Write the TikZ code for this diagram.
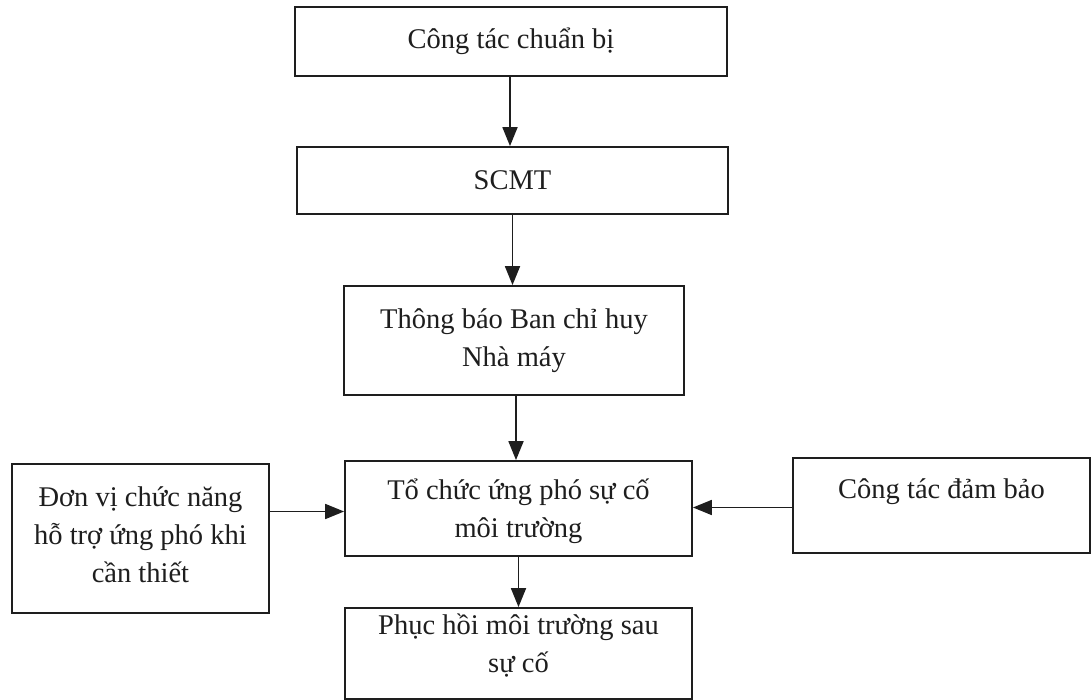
\documentclass[tikz,border=0pt]{standalone}
\usepackage{fontspec}
\setmainfont{Liberation Serif}
\usetikzlibrary{arrows.meta,calc}
\definecolor{ink}{HTML}{1E1E1E}
\begin{document}
\begin{tikzpicture}[x=1pt,y=-1pt,
  every node/.style={font=\fontsize{28.5}{38}\selectfont, text=ink, align=center},
  box/.style={draw=ink, line width=1.8pt, inner sep=0pt, anchor=center},
  arr/.style={draw=ink, line width=1.8pt, -{Triangle[length=19pt,width=15pt]}}]
\useasboundingbox (0,0) rectangle (1092,700);
\fill[white] (0,0) rectangle (1092,700);

% main chain
\node[box, minimum width=432pt, minimum height=69pt] (prep) at (511,41.5) {Công tác chuẩn bị};
\node[box, minimum width=431pt, minimum height=67pt] (scmt) at (512.5,180.5) {SCMT};
\node[box, minimum width=340pt, minimum height=109pt] (notify) at (514,340.5) {Thông báo Ban chỉ huy\\Nhà máy};
\node[box, minimum width=347pt, minimum height=95pt] (respond) at (518.5,508.5) {};
\node (respondtxt) at (518.5,511) {Tổ chức ứng phó sự cố\\môi trường};
\node[box, minimum width=347pt, minimum height=91pt] (recover) at (518.5,653.5) {};
\node (recovertxt) at (518.5,646) {Phục hồi môi trường sau\\sự cố};

% side boxes
\node[box, minimum width=257pt, minimum height=149pt] (support) at (140.5,538.5) {};
\node (supporttxt) at (140.5,535) {Đơn vị chức năng\\hỗ trợ ứng phó khi\\cần thiết};
\node[box, minimum width=297pt, minimum height=95pt] (ensure) at (941.5,505.5) {};
\node (ensuretxt) at (941.5,492) {Công tác đảm bảo};

% connectors
\draw[arr] ($(prep.south)+(-1,0)$) -- ($(prep.south |- scmt.north)+(-1,0)$);
\draw[arr] (scmt.south) -- (scmt.south |- notify.north);
\draw[arr] ($(notify.south)+(2,0)$) -- ($(notify.south |- respond.north)+(2,0)$);
\draw[arr] (respond.south) -- (respond.south |- recover.north);
\draw[arr] ($(respond.west -| support.east)+(0,3)$) -- ($(respond.west)+(0,3)$);
\draw[arr] ($(respond.east -| ensure.west)+(0,-1)$) -- ($(respond.east)+(0,-1)$);
\end{tikzpicture}
\end{document}
